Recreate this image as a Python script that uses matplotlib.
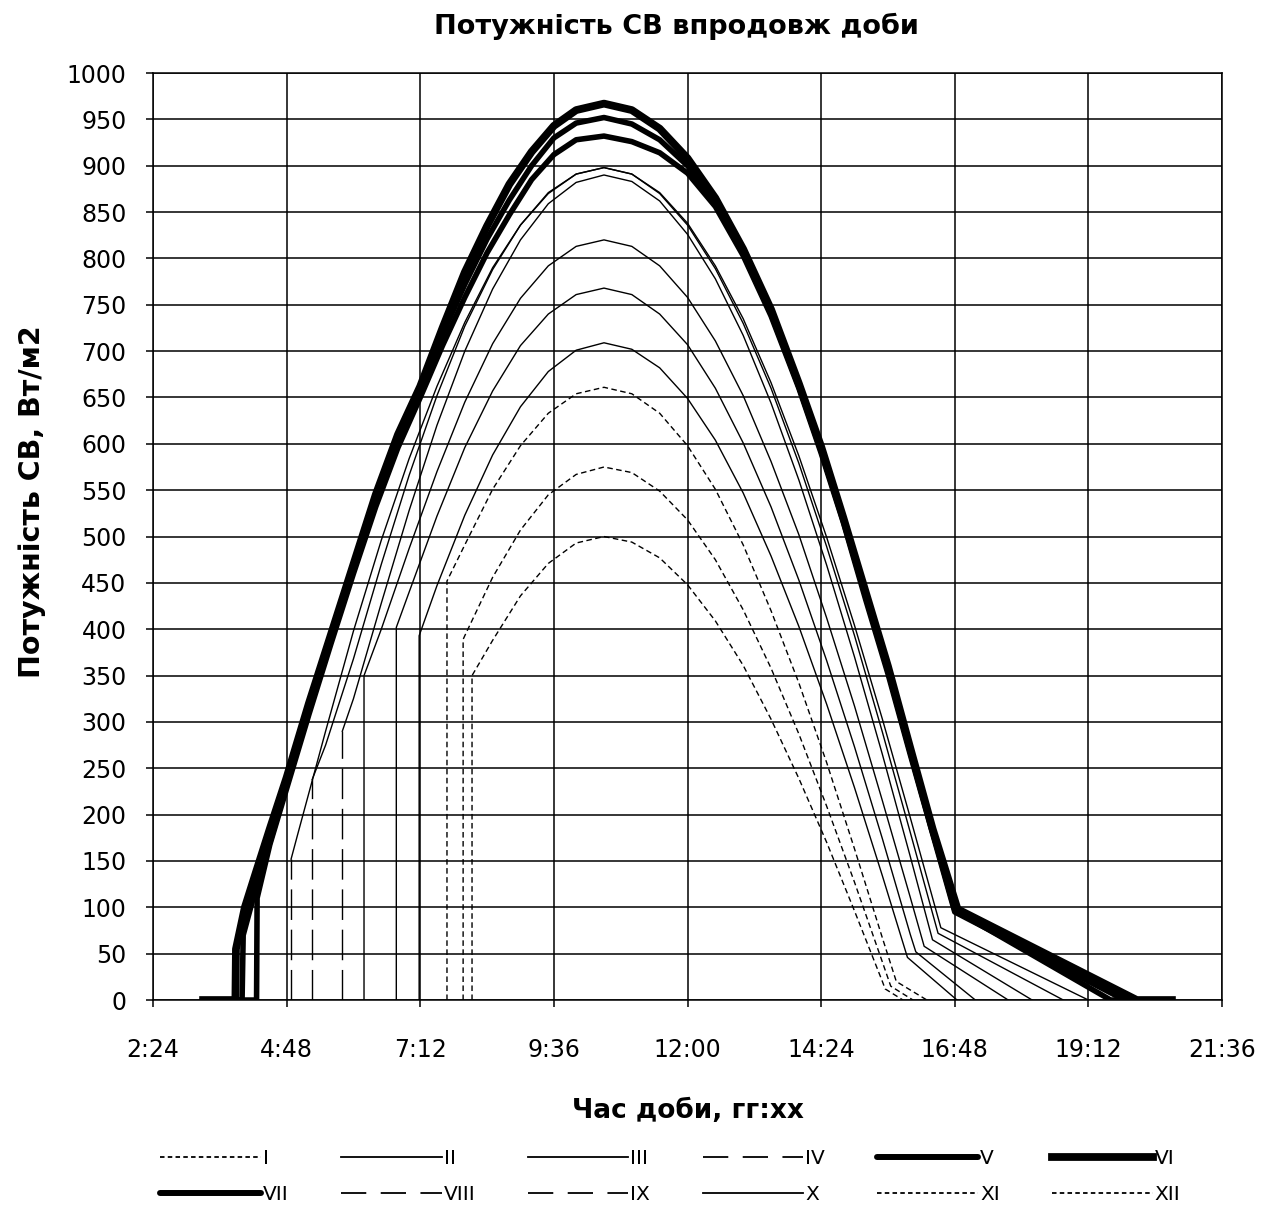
import numpy as np
import matplotlib.pyplot as plt
from matplotlib.lines import Line2D
from matplotlib.ticker import FuncFormatter, MultipleLocator

plt.rcParams['font.family'] = ['DejaVu Sans']

# час доби (год) і потужність (Вт/м2) для кожного місяця
t_I = [7.97, 7.97, 8.0, 8.5, 9.0, 9.5, 10.0, 10.5, 11.0, 11.5, 12.0, 12.5, 13.0, 13.5, 14.0, 14.5, 15.0, 15.5, 15.65, 16.05]
p_I = [0, 389, 393, 456, 507, 545, 567, 575, 569, 549, 518, 475, 421, 358, 287, 209, 127, 41, 15, 0]

t_II = [7.18, 7.18, 7.5, 8.0, 8.5, 9.0, 9.5, 10.0, 10.5, 11.0, 11.5, 12.0, 12.5, 13.0, 13.5, 14.0, 14.5, 15.0, 15.5, 15.95, 16.84]
p_II = [0, 393, 447, 523, 588, 640, 678, 701, 709, 702, 682, 649, 604, 547, 479, 403, 319, 229, 134, 46, 0]

t_III = [6.19, 6.19, 6.5, 7.0, 7.5, 8.0, 8.5, 9.0, 9.5, 10.0, 10.5, 11.0, 11.5, 12.0, 12.5, 13.0, 13.5, 14.0, 14.5, 15.0, 15.5, 16.0, 16.25, 17.76]
p_III = [0, 350, 400, 487, 570, 645, 708, 757, 792, 813, 820, 813, 792, 758, 711, 652, 581, 502, 412, 317, 215, 111, 58, 0]

t_IV = [4.88, 4.88, 5.0, 5.5, 6.0, 6.5, 7.0, 7.5, 8.0, 8.5, 9.0, 9.5, 10.0, 10.5, 11.0, 11.5, 12.0, 12.5, 13.0, 13.5, 14.0, 14.5, 15.0, 15.5, 16.0, 16.55, 19.2]
p_IV = [0, 152, 179, 290, 398, 496, 584, 662, 731, 790, 836, 870, 891, 898, 891, 871, 838, 792, 735, 666, 587, 499, 404, 303, 197, 78, 0]

t_V = [3.3, 4.0, 4.02, 4.2, 4.5, 4.8, 5.2, 5.6, 6.0, 6.4, 6.8, 7.2, 7.6, 8.0, 8.4, 8.8, 9.2, 9.6, 10.0, 10.5, 11.0, 11.5, 12.0, 12.5, 13.0, 13.5, 14.0, 14.4, 14.8, 15.2, 15.6, 16.0, 16.4, 16.8, 19.6, 20.7]
p_V = [0, 0, 70, 110, 170, 232, 315, 392, 468, 540, 605, 660, 718, 772, 821, 863, 900, 930, 946, 952, 945, 928, 900, 860, 805, 740, 662, 592, 518, 435, 355, 268, 182, 97, 0, 0]

t_VI = [3.3, 3.88, 3.89, 4.05, 4.25, 4.5, 4.8, 5.2, 5.6, 6.0, 6.4, 6.8, 7.2, 7.6, 8.0, 8.4, 8.8, 9.2, 9.6, 10.0, 10.5, 11.0, 11.5, 12.0, 12.5, 13.0, 13.5, 14.0, 14.4, 14.8, 15.2, 15.6, 16.0, 16.4, 16.85, 20.07, 20.7]
p_VI = [0, 0, 55, 100, 138, 185, 240, 320, 395, 470, 545, 610, 662, 725, 785, 835, 880, 915, 943, 960, 967, 960, 940, 908, 865, 810, 745, 665, 597, 520, 440, 360, 272, 185, 98, 0, 0]

t_VII = [3.3, 4.26, 4.27, 4.5, 4.8, 5.2, 5.6, 6.0, 6.4, 6.8, 7.2, 7.6, 8.0, 8.4, 8.8, 9.2, 9.6, 10.0, 10.5, 11.0, 11.5, 12.0, 12.5, 13.0, 13.5, 14.0, 14.4, 14.8, 15.2, 15.6, 16.0, 16.4, 16.8, 19.85, 20.7]
p_VII = [0, 0, 110, 168, 228, 308, 385, 460, 532, 596, 650, 706, 758, 806, 847, 885, 912, 928, 932, 926, 914, 892, 856, 803, 738, 660, 590, 515, 432, 352, 265, 180, 95, 0, 0]

t_VIII = [5.26, 5.26, 5.5, 6.0, 6.5, 7.0, 7.5, 8.0, 8.5, 9.0, 9.5, 10.0, 10.5, 11.0, 11.5, 12.0, 12.5, 13.0, 13.5, 14.0, 14.5, 15.0, 15.5, 16.0, 16.5, 18.75]
p_VIII = [0, 238, 275, 368, 470, 566, 652, 727, 788, 836, 871, 891, 898, 891, 870, 836, 789, 730, 660, 579, 489, 393, 289, 181, 72, 0]

t_IX = [5.8, 5.8, 6.0, 6.5, 7.0, 7.5, 8.0, 8.5, 9.0, 9.5, 10.0, 10.5, 11.0, 11.5, 12.0, 12.5, 13.0, 13.5, 14.0, 14.5, 15.0, 15.5, 16.0, 16.4, 18.19]
p_IX = [0, 290, 325, 428, 528, 620, 700, 767, 820, 859, 882, 890, 883, 862, 826, 778, 717, 644, 561, 469, 370, 265, 155, 65, 0]

t_X = [6.77, 6.77, 7.0, 7.5, 8.0, 8.5, 9.0, 9.5, 10.0, 10.5, 11.0, 11.5, 12.0, 12.5, 13.0, 13.5, 14.0, 14.5, 15.0, 15.5, 16.0, 16.1, 17.17]
p_X = [0, 402, 440, 522, 596, 657, 706, 740, 761, 768, 761, 740, 707, 660, 601, 532, 453, 366, 273, 174, 71, 52, 0]

t_XI = [7.68, 7.68, 8.0, 8.5, 9.0, 9.5, 10.0, 10.5, 11.0, 11.5, 12.0, 12.5, 13.0, 13.5, 14.0, 14.5, 15.0, 15.5, 15.75, 16.3]
p_XI = [0, 452, 491, 551, 598, 633, 654, 661, 654, 633, 598, 551, 491, 420, 342, 256, 163, 67, 20, 0]

t_XII = [8.13, 8.13, 8.5, 9.0, 9.5, 10.0, 10.5, 11.0, 11.5, 12.0, 12.5, 13.0, 13.5, 14.0, 14.5, 15.0, 15.5, 15.55, 15.87]
p_XII = [0, 350, 388, 436, 471, 493, 500, 494, 477, 448, 409, 361, 303, 239, 170, 96, 20, 12, 0]

months = ['I', 'II', 'III', 'IV', 'V', 'VI', 'VII', 'VIII', 'IX', 'X', 'XI', 'XII']
times = [t_I, t_II, t_III, t_IV, t_V, t_VI, t_VII, t_VIII, t_IX, t_X, t_XI, t_XII]
powers = [p_I, p_II, p_III, p_IV, p_V, p_VI, p_VII, p_VIII, p_IX, p_X, p_XI, p_XII]

# стилі ліній: 'dot' - дрібний пунктир, 'solid', 'dash' - довгий штрих, 'thick'
kinds = ['dot', 'solid', 'solid', 'dash', 'thick', 'thicker', 'thick', 'dash', 'dash', 'solid', 'dot', 'dot']

fig = plt.figure(figsize=(12.76, 12.11), dpi=100)
ax = fig.add_axes([0.1199, 0.1742, 0.8378, 0.7655])

handles = []
for name, t, p, kind in zip(months, times, powers, kinds):
    if kind == 'dot':
        ax.plot(t, p, color='black', lw=1.0, ls=(0, (4, 2.5)))
        h = Line2D([], [], color='black', lw=1.3, ls=(0, (2.5, 1.8)))
    elif kind == 'solid':
        ax.plot(t, p, color='black', lw=1.0)
        h = Line2D([], [], color='black', lw=1.3)
    elif kind == 'dash':
        # на кривій штрихи зливаються, видно лише на вертикальному стрибку
        ax.plot(t[1:], p[1:], color='black', lw=1.0)
        ax.plot(t[:2], p[:2], color='black', lw=1.0, ls=(0, (22, 7)))
        h = Line2D([], [], color='black', lw=1.3, ls=(0, (14, 8)))
    elif kind == 'thick':
        ax.plot(t, p, color='black', lw=4.0, solid_joinstyle='round')
        h = Line2D([], [], color='black', lw=4.3, solid_capstyle='round')
    else:
        ax.plot(t, p, color='black', lw=5.6, solid_joinstyle='round')
        h = Line2D([], [], color='black', lw=5.6)
    handles.append(h)

ax.set_xlim(2.4, 21.6)
ax.set_ylim(0, 1000)
ax.xaxis.set_major_locator(MultipleLocator(2.4))
ax.yaxis.set_major_locator(MultipleLocator(50))


def hhmm(x, pos):
    m = int(round(x * 60))
    return f"{m // 60}:{m % 60:02d}"


ax.xaxis.set_major_formatter(FuncFormatter(hhmm))
ax.grid(True, color='black', lw=1.1)
ax.set_axisbelow(True)
for s in ax.spines.values():
    s.set_linewidth(1.1)
ax.tick_params(axis='both', direction='out', length=5, width=1.1, labelsize=17, color='black')
ax.tick_params(axis='x', pad=22)
ax.tick_params(axis='y', pad=14)

fig.text(0.53, 0.978, "Потужність СВ впродовж доби", fontsize=19.5, fontweight='bold',
         ha='center', va='center')
ax.set_xlabel("Час доби, гг:хх", fontsize=19, fontweight='bold', labelpad=26)
ax.set_ylabel("Потужність СВ, Вт/м2", fontsize=20.5, fontweight='bold')
ax.yaxis.set_label_coords(-0.1, 0.538)

# легенда: два рядки по шість
order = [0, 6, 1, 7, 2, 8, 3, 9, 4, 10, 5, 11]
leg = fig.legend([handles[i] for i in order], [months[i] for i in order],
                 ncol=6, loc='lower left', bbox_to_anchor=(0.116, -0.004),
                 frameon=False, fontsize=14.5, handlelength=5.0, handletextpad=0.1,
                 columnspacing=2.6, labelspacing=0.85, borderaxespad=0.2)

fig.savefig("out.png", dpi=100)
